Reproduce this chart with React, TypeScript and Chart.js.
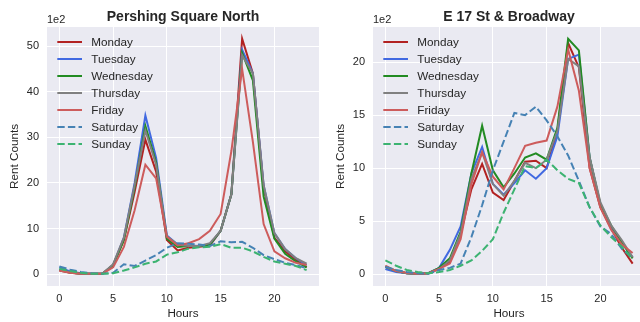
import { useEffect, useRef } from "react";
import { Chart, registerables } from "chart.js";

Chart.register(...registerables);

// ---- data (values are in hundreds of rentals, axis offset "1e2") ----
const hours = [0, 1, 2, 3, 4, 5, 6, 7, 8, 9, 10, 11, 12, 13, 14, 15, 16, 17, 18, 19, 20, 21, 22, 23];
const dayNames = ["Monday", "Tuesday", "Wednesday", "Thursday", "Friday", "Saturday", "Sunday"];
const dayColors = ["#B22222", "#4169E1", "#228B22", "#808080", "#CD5C5C", "#4682B4", "#3CB371"];
const dayDashed = [false, false, false, false, false, true, true];

const xTickValues = [0, 5, 10, 15, 20];
const pershingYTicks = [0, 10, 20, 30, 40, 50];
const broadwayYTicks = [0, 5, 10, 15, 20];

const pershingMonday = [0.8, 0.3, 0.1, 0.1, 0.1, 2.0, 7.5, 18.0, 29.5, 22.5, 7.5, 5.2, 5.8, 6.0, 6.3, 9.5, 17.5, 51.6, 44.0, 19.0, 8.0, 5.0, 3.2, 1.5];
const pershingTuesday = [1.5, 0.6, 0.2, 0.1, 0.1, 2.0, 8.0, 20.0, 34.8, 25.5, 8.5, 6.5, 6.3, 6.2, 6.5, 9.5, 17.5, 49.2, 44.0, 19.5, 9.0, 5.5, 3.5, 2.0];
const pershingWednesday = [1.0, 0.4, 0.1, 0.1, 0.1, 2.0, 7.5, 19.0, 32.5, 24.5, 7.8, 6.0, 6.2, 6.2, 6.5, 9.5, 17.5, 48.5, 42.5, 17.0, 7.8, 4.5, 2.8, 1.5];
const pershingThursday = [1.0, 0.4, 0.1, 0.1, 0.1, 2.2, 8.0, 19.5, 31.5, 24.0, 8.3, 6.5, 6.2, 6.2, 6.8, 9.5, 17.5, 48.0, 44.0, 19.5, 9.0, 5.5, 3.5, 2.3];
const pershingFriday = [0.8, 0.3, 0.1, 0.1, 0.1, 1.5, 6.0, 14.0, 24.0, 21.0, 8.2, 6.3, 6.8, 7.7, 9.5, 13.2, 27.0, 45.0, 29.0, 11.0, 5.0, 3.5, 2.5, 2.0];
const pershingSaturday = [1.7, 1.0, 0.5, 0.2, 0.1, 0.3, 2.2, 1.8, 3.0, 4.2, 5.8, 6.8, 6.7, 6.5, 6.2, 7.2, 7.0, 7.1, 5.8, 4.2, 3.3, 2.5, 2.0, 1.3];
const pershingSunday = [1.2, 0.7, 0.3, 0.1, 0.1, 0.2, 0.8, 1.5, 2.3, 2.8, 4.3, 4.8, 5.6, 5.9, 6.0, 6.6, 5.8, 5.8, 5.0, 3.8, 2.8, 2.3, 1.8, 0.9];

const broadwayMonday = [0.7, 0.3, 0.1, 0.05, 0.1, 0.5, 1.2, 3.8, 8.0, 10.4, 7.7, 7.0, 8.8, 10.6, 10.7, 10.0, 13.5, 21.8, 19.5, 10.0, 6.3, 4.3, 2.5, 1.0];
const broadwayTuesday = [0.5, 0.2, 0.1, 0.05, 0.1, 0.6, 2.3, 4.5, 9.5, 12.0, 8.5, 7.5, 8.6, 9.8, 9.0, 10.0, 13.0, 20.3, 20.7, 11.0, 6.5, 4.3, 3.0, 1.6];
const broadwayWednesday = [0.7, 0.3, 0.1, 0.05, 0.1, 0.6, 1.5, 4.0, 9.5, 14.0, 9.8, 8.2, 9.5, 11.0, 11.4, 10.8, 13.8, 22.2, 21.1, 11.0, 6.6, 4.6, 3.0, 1.5];
const broadwayThursday = [0.7, 0.3, 0.1, 0.05, 0.1, 0.5, 1.3, 3.8, 9.0, 11.5, 8.5, 7.4, 8.8, 10.5, 10.0, 10.8, 13.5, 20.3, 19.6, 11.0, 6.8, 4.6, 3.2, 1.6];
const broadwayFriday = [0.8, 0.3, 0.15, 0.05, 0.1, 0.5, 1.0, 3.3, 8.5, 11.5, 9.2, 8.0, 10.0, 12.1, 12.4, 12.6, 15.8, 21.2, 17.3, 10.0, 6.3, 4.2, 2.8, 2.0];
const broadwaySaturday = [0.7, 0.4, 0.2, 0.1, 0.05, 0.4, 0.6, 1.0, 3.5, 6.5, 9.8, 12.5, 15.2, 15.0, 15.8, 14.5, 13.0, 11.2, 8.8, 6.3, 4.5, 3.8, 2.4, 1.5];
const broadwaySunday = [1.3, 0.8, 0.4, 0.2, 0.1, 0.2, 0.4, 0.8, 1.3, 2.2, 3.3, 5.8, 8.0, 10.2, 10.0, 10.8, 9.8, 9.0, 8.6, 6.3, 4.6, 3.5, 2.6, 1.4];

const pershingSeries = [pershingMonday, pershingTuesday, pershingWednesday, pershingThursday, pershingFriday, pershingSaturday, pershingSunday];
const broadwaySeries = [broadwayMonday, broadwayTuesday, broadwayWednesday, broadwayThursday, broadwayFriday, broadwaySaturday, broadwaySunday];

const FONT = "'Liberation Sans', Arial, sans-serif";
const TEXT = "#262626";

const decorPlugin = {
  id: "decor",
  beforeDraw(chart: any) {
    const { ctx, chartArea: a } = chart;
    ctx.save();
    ctx.fillStyle = "#EAEAF2";
    ctx.fillRect(a.left, a.top, a.right - a.left, a.bottom - a.top);
    ctx.restore();
  },
  afterDraw(chart: any) {
    const { ctx, chartArea: a } = chart;
    const o = chart.options.plugins.decor;
    ctx.save();
    ctx.fillStyle = TEXT;
    ctx.font = `bold 14px ${FONT}`;
    ctx.textAlign = "center";
    ctx.textBaseline = "alphabetic";
    ctx.fillText(o.title, (a.left + a.right) / 2, 20.5);
    ctx.font = `11px ${FONT}`;
    ctx.textAlign = "left";
    ctx.fillText("1e2", a.left, 23);
    // legend
    chart.data.datasets.forEach((ds: any, i: number) => {
      const y = a.top + 15 + i * 17;
      ctx.beginPath();
      ctx.strokeStyle = ds.borderColor;
      ctx.lineWidth = 2;
      ctx.setLineDash(ds.borderDash || []);
      ctx.moveTo(a.left + 10.3, y);
      ctx.lineTo(a.left + 35, y);
      ctx.stroke();
      ctx.setLineDash([]);
      ctx.fillStyle = TEXT;
      ctx.font = `11.7px ${FONT}`;
      ctx.textBaseline = "middle";
      ctx.fillText(ds.label, a.left + 44.3, y + 0.5);
    });
    ctx.restore();
  },
};

function buildChart(
  canvas: HTMLCanvasElement,
  series: number[][],
  yTicks: number[],
  title: string,
  yWidth: number,
  rightPad: number,
  yTitlePad: number
) {
  let dmin = Infinity;
  let dmax = -Infinity;
  series.forEach((s) => s.forEach((v) => { dmin = Math.min(dmin, v); dmax = Math.max(dmax, v); }));
  dmin = Math.min(dmin, 0);
  const yMargin = (dmax - dmin) * 0.05;
  const xMargin = (hours[hours.length - 1] - hours[0]) * 0.05;

  const datasets = series.map((vals, i) => ({
    label: dayNames[i],
    data: hours.map((h, j) => ({ x: h, y: vals[j] })),
    borderColor: dayColors[i],
    backgroundColor: dayColors[i],
    borderWidth: 2,
    borderDash: dayDashed[i] ? [7.4, 3.2] : [],
    pointRadius: 0,
    tension: 0,
    fill: false,
    order: series.length - i,
  }));

  return new Chart(canvas, {
    type: "line",
    data: { datasets },
    plugins: [decorPlugin],
    options: {
      responsive: false,
      devicePixelRatio: 1,
      animation: false,
      events: [],
      layout: { padding: { top: 27, right: rightPad, left: 0, bottom: 0 } },
      plugins: {
        legend: { display: false },
        tooltip: { enabled: false },
        title: { display: false },
        decor: { title },
      } as any,
      scales: {
        x: {
          type: "linear",
          min: hours[0] - xMargin,
          max: hours[hours.length - 1] + xMargin,
          afterBuildTicks: (s: any) => { s.ticks = xTickValues.map((v) => ({ value: v })); },
          afterFit: (s: any) => { s.height = 36; },
          ticks: { font: { family: FONT, size: 11 }, color: TEXT, padding: 6, callback: (v: any) => String(v) },
          grid: { color: "#FFFFFF", lineWidth: 1, drawTicks: false },
          border: { display: false },
          title: { display: true, text: "Hours", font: { family: FONT, size: 11.7 }, color: TEXT, padding: { top: 0, bottom: 1.5 } },
        },
        y: {
          type: "linear",
          min: dmin - yMargin,
          max: dmax + yMargin,
          afterBuildTicks: (s: any) => { s.ticks = yTicks.map((v) => ({ value: v })); },
          afterFit: (s: any) => { s.width = yWidth; },
          ticks: { font: { family: FONT, size: 11 }, color: TEXT, padding: 8, callback: (v: any) => String(v) },
          grid: { color: "#FFFFFF", lineWidth: 1, drawTicks: false },
          border: { display: false },
          title: { display: true, text: "Rent Counts", font: { family: FONT, size: 11.7 }, color: TEXT, padding: { top: yTitlePad, bottom: 0 } },
        },
      },
    } as any,
  });
}

export default function App() {
  const leftRef = useRef<HTMLCanvasElement>(null);
  const rightRef = useRef<HTMLCanvasElement>(null);

  useEffect(() => {
    const c1 = buildChart(leftRef.current!, pershingSeries, pershingYTicks, "Pershing Square North", 47, 1, 7.4);
    const c2 = buildChart(rightRef.current!, broadwaySeries, broadwayYTicks, "E 17 St & Broadway", 53, 5, 13.4);
    return () => {
      c1.destroy();
      c2.destroy();
    };
  }, []);

  return (
    <div style={{ position: "fixed", left: 0, top: 0, width: 640, height: 322, overflow: "hidden", background: "#FFFFFF" }}>
      <canvas ref={leftRef} width={320} height={322} style={{ position: "absolute", left: 0, top: 0, width: 320, height: 322 }} />
      <canvas ref={rightRef} width={330} height={322} style={{ position: "absolute", left: 320, top: 0, width: 330, height: 322 }} />
    </div>
  );
}
